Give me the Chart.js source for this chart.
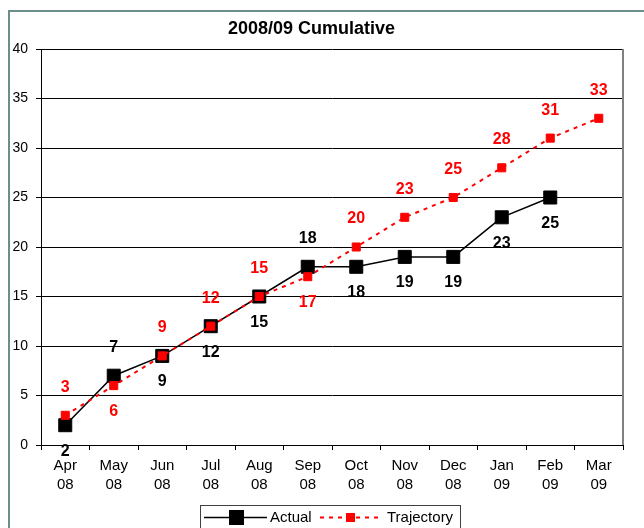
<!DOCTYPE html>
<html>
<head>
<meta charset="utf-8">
<script src="https://cdn.jsdelivr.net/npm/chart.js@4.4.1/dist/chart.umd.min.js"></script>
<style>
  html, body { margin: 0; padding: 0; background: #fff; overflow: hidden; }
  #cumChart { display: block; }
</style>
</head>
<body>
<canvas id="cumChart" width="644" height="528"></canvas>
<script>
// months along the bottom, two lines each
const months = [
    ["Apr", "08"], ["May", "08"], ["Jun", "08"], ["Jul", "08"],
    ["Aug", "08"], ["Sep", "08"], ["Oct", "08"], ["Nov", "08"],
    ["Dec", "08"], ["Jan", "09"], ["Feb", "09"], ["Mar", "09"]
];

const actual = [2, 7, 9, 12, 15, 18, 18, 19, 19, 23, 25, null];
const trajectory = [3, 6, 9, 12, 15, 17, 20, 23, 25, 28, 31, 33];

const yTicks = [0, 5, 10, 15, 20, 25, 30, 35, 40];

// where each value label sits relative to its point
const actualLabelSide = ["below", "above", "below", "below", "below", "above", "below", "below", "below", "below", "below"];
const trajLabelSide = ["above", "below", "above", "above", "above", "below", "above", "above", "above", "above", "above", "above"];

const FONT = "'Liberation Sans', Arial, sans-serif";

/* ===============================
   value labels + frame + legend
=============================== */

const decorPlugin = {
    id: "decor",
    beforeDraw(chart) {
        const ctx = chart.ctx;
        ctx.save();
        // outer frame
        ctx.strokeStyle = "#6b8e8b";
        ctx.lineWidth = 2;
        ctx.beginPath();
        ctx.moveTo(644, 11);
        ctx.lineTo(9, 11);
        ctx.lineTo(9, 528);
        ctx.stroke();
        ctx.restore();
    },
    afterDatasetsDraw(chart) {
        const ctx = chart.ctx;
        const area = chart.chartArea;
        ctx.save();
        // right edge of the plot area
        ctx.strokeStyle = "#808080";
        ctx.lineWidth = 2;
        ctx.beginPath();
        ctx.moveTo(area.right, area.top);
        ctx.lineTo(area.right, area.bottom);
        ctx.stroke();

        ctx.font = "bold 16px " + FONT;
        ctx.textAlign = "center";
        ctx.textBaseline = "middle";

        const sets = [
            { idx: 0, side: trajLabelSide, color: "#ff0000" },
            { idx: 1, side: actualLabelSide, color: "#000000" }
        ];
        sets.forEach(s => {
            const ds = chart.data.datasets[s.idx];
            const meta = chart.getDatasetMeta(s.idx);
            ctx.fillStyle = s.color;
            meta.data.forEach((pt, i) => {
                const v = ds.data[i];
                if (v === null || v === undefined) return;
                const dy = s.side[i] === "above" ? -28 : 26;
                ctx.fillText(String(v), pt.x, pt.y + dy);
            });
        });
        ctx.restore();
    },
    afterDraw(chart) {
        const ctx = chart.ctx;
        ctx.save();
        // legend box
        ctx.strokeStyle = "#404040";
        ctx.lineWidth = 1;
        ctx.strokeRect(200.5, 505.5, 260, 40);

        const ly = 517.5;
        // Actual
        ctx.strokeStyle = "#000";
        ctx.lineWidth = 1.5;
        ctx.beginPath();
        ctx.moveTo(204, ly);
        ctx.lineTo(267, ly);
        ctx.stroke();
        ctx.fillStyle = "#000";
        ctx.fillRect(229, ly - 7.5, 15, 15);

        // Trajectory
        ctx.strokeStyle = "#ff0000";
        ctx.lineWidth = 2;
        ctx.setLineDash([4, 5]);
        ctx.beginPath();
        ctx.moveTo(320, ly);
        ctx.lineTo(383, ly);
        ctx.stroke();
        ctx.setLineDash([]);
        ctx.fillStyle = "#ff0000";
        ctx.fillRect(346, ly - 4.5, 9, 9);

        ctx.fillStyle = "#000";
        ctx.font = "15px " + FONT;
        ctx.textAlign = "left";
        ctx.textBaseline = "middle";
        ctx.fillText(chart.data.datasets[1].label, 270, ly);
        ctx.fillText(chart.data.datasets[0].label, 387, ly);
        ctx.restore();
    }
};

const cumCtx = document.getElementById("cumChart");

new Chart(cumCtx, {
    type: "line",
    data: {
        labels: months,
        datasets: [{
            label: "Trajectory",
            data: trajectory,
            order: 0,
            borderColor: "#ff0000",
            backgroundColor: "#ff0000",
            borderWidth: 2,
            borderDash: [4, 5],
            pointStyle: "rect",
            pointRadius: 5.7,
            pointBorderWidth: 1,
            pointBorderColor: "#ff0000",
            pointBackgroundColor: "#ff0000",
            tension: 0,
            fill: false
        }, {
            label: "Actual",
            data: actual,
            order: 1,
            borderColor: "#000000",
            backgroundColor: "#000000",
            borderWidth: 1.5,
            pointStyle: "rect",
            pointRadius: 9.2,
            pointBorderWidth: 1,
            pointBorderColor: "#000000",
            pointBackgroundColor: "#000000",
            tension: 0,
            fill: false
        }]
    },
    options: {
        responsive: false,
        animation: false,
        devicePixelRatio: 1,
        layout: {
            padding: { left: 0, right: 21, top: 0, bottom: 0 }
        },
        plugins: {
            legend: { display: false },
            tooltip: { enabled: false },
            title: {
                display: true,
                text: "2008/09 Cumulative",
                color: "#000",
                font: { family: FONT, size: 18, weight: "bold", lineHeight: "21px" },
                padding: { top: 19, bottom: 9 }
            }
        },
        scales: {
            x: {
                offset: true,
                grid: {
                    offset: true,
                    drawOnChartArea: false,
                    drawTicks: true,
                    tickLength: 5,
                    color: "#000"
                },
                border: { color: "#000", width: 1 },
                ticks: {
                    color: "#000",
                    font: { family: FONT, size: 15, lineHeight: "19px" },
                    padding: 6,
                    maxRotation: 0,
                    autoSkip: false
                },
                afterFit(scale) { scale.height = 83; }
            },
            y: {
                min: 0,
                max: 40,
                afterBuildTicks(scale) {
                    scale.ticks = yTicks.map(v => ({ value: v }));
                },
                grid: {
                    color: "#000",
                    lineWidth: 1,
                    drawTicks: true,
                    tickLength: 5
                },
                border: { color: "#000", width: 1 },
                ticks: {
                    color: "#000",
                    font: { family: FONT, size: 14 },
                    padding: 8
                },
                afterFit(scale) { scale.width = 41; }
            }
        }
    },
    plugins: [decorPlugin]
});
</script>
</body>
</html>
